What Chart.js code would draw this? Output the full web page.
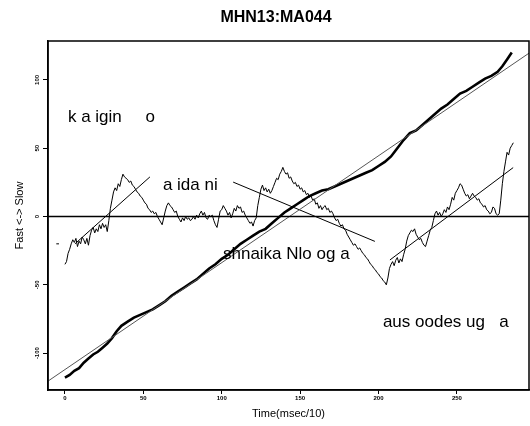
<!DOCTYPE html>
<html>
<head>
<meta charset="utf-8">
<script src="https://cdn.jsdelivr.net/npm/chart.js@4"></script>
<style>
  html, body { margin: 0; padding: 0; background: #fff; }
</style>
</head>
<body>
<canvas id="myChart" width="530" height="426"></canvas>
<script>
// axis limits and ticks
const xMin = -10.8
const xMax = 296
const yMin = -127
const yMax = 128.5
const xTicks = [0, 50, 100, 150, 200, 250]
const yTicks = [-100, -50, 0, 50, 100]

// cumulative curve (thick)
const cumTime = [0, 3, 6, 9, 12, 15, 18, 21, 24, 27, 30, 33, 36, 40, 44, 48, 52, 56, 60, 64, 68, 72, 76, 80, 84, 88, 92, 96, 100, 104, 108, 112, 116, 120, 124, 128, 132, 136, 140, 144, 148, 152, 156, 160, 164, 168, 172, 176, 180, 184, 188, 192, 196, 200, 204, 208, 212, 216, 220, 224, 228, 232, 236, 240, 244, 248, 252, 256, 260, 264, 268, 272, 276, 279, 282, 285]
const cumValue = [-118, -116, -113, -111, -107, -104, -101, -99, -96, -93, -89, -84, -80, -77, -74, -72, -70, -68, -65, -62, -58, -55, -52, -49, -46, -42, -38, -35, -31, -28, -24, -20, -17, -14, -11, -9, -5, -1, 3, 6, 9, 12, 15, 17, 19, 20, 22, 24, 26, 28, 30, 32, 34, 37, 40, 44, 50, 56, 61, 63, 67, 71, 75, 79, 82, 86, 90, 92, 95, 98, 101, 103, 106, 110, 115, 120]

// deviation series (thin, jagged), one value per time step starting at 0
const devValue = [
  -35, -33, -27, -24, -20, -17, -19, -16, -22, -18,
  -20, -15, -17, -20, -16, -21, -14, -10, -8, -12,
  -9, -11, -6, -9, -5, -8, -6, -11, -3, 6,
  12, 18, 21, 19, 24, 22, 27, 31, 29, 28,
  27, 25, 26, 23, 22, 20, 18, 17, 15, 14,
  12, 10, 9, 6, 5, 3, 4, 2, 3, 0,
  -2, -4, -6, -1, 4, 8, 10, 8, 7, 5,
  3, 4, 0, -2, -4, -1, -3, 0, -2, -1,
  -3, -2, 0, -2, 1, -1, 2, 4, 1, 3,
  -1, -2, 1, 0, 1, -3, -6, -8, -2, 4,
  5, 8, 6, 4, 1, 3, -1, 2, 6, 4,
  8, 6, 7, 3, 4, 1, -1, -3, -5, -4,
  -7, -3, -1, 8, 14, 20, 23, 19, 21, 18,
  20, 17, 19, 22, 25, 28, 27, 31, 33, 36,
  33, 31, 32, 28, 29, 26, 24, 25, 22, 23,
  20, 21, 18, 19, 16, 17, 14, 15, 12, 13,
  9, 10, 6, 8, 5, 7, 8, 5, 6, 3,
  4, 2, -1, -3, -2, -5, -7, -6, -9, -10,
  -13, -15, -17, -19, -21, -20, -22, -24, -23, -25,
  -27, -28, -30, -31, -33, -35, -36, -38, -39, -41,
  -42, -44, -45, -47, -48, -50, -45, -38, -35, -33,
  -36, -32, -30, -34, -31, -33, -28, -24, -18, -14,
  -12, -10, -11, -9, -13, -15, -17, -16, -19, -21,
  -22, -18, -14, -10, -8, -3, 2, 4, 1, 3,
  0, 2, 5, 3, 7, 5, 9, 14, 12, 17,
  19, 21, 24, 23, 20, 17, 15, 16, 13, 15,
  17, 15, 14, 12, 13, 10, 9, 7, 8, 5,
  4, 2, 3, 7, 6, 2, 1, 2, 12, 24,
  33, 40, 47, 45, 50, 52, 54
]

// fitted straight segments
const trendX = [-10.8, 296]
const trendY = [-120.5, 119.6]
const fitStartX = [6.4, 107.3, 207.3, -5.5]
const fitStartY = [-20, 25.2, -31.8, -20]
const fitEndX = [54.2, 197.7, 285.9, -3.8]
const fitEndY = [29, -18.2, 35.8, -20]

// labels written inside the plot
const noteText = ['k a igin     o', 'a ida ni', 'shnaika Nlo og a', 'aus oodes ug   a']
const noteX = [1.9, 62.5, 100.8, 202.8]
const noteY = [69.2, 19.4, -31.1, -81]

const pts = (xs, ys) => xs.map((v, i) => ({ x: v, y: ys[i] }))
const base = { pointRadius: 0, pointHoverRadius: 0, tension: 0, fill: false, borderColor: '#000' }

let datasets = [
  { ...base, data: pts([xMin, xMax], [0, 0]), borderWidth: 1.5 },
  { ...base, data: pts(trendX, trendY), borderWidth: 1, borderColor: '#555' }
]
fitStartX.forEach((v, i) => {
  datasets.push({ ...base, data: pts([v, fitEndX[i]], [fitStartY[i], fitEndY[i]]), borderWidth: 1 })
})
datasets.push({ ...base, data: devValue.map((v, i) => ({ x: i, y: v })), borderWidth: 1 })
datasets.push({ ...base, data: pts(cumTime, cumValue), borderWidth: 2.6 })

// frame, title and in-plot labels
const notesPlugin = {
  id: 'notes',
  afterDatasetsDraw(chart) {
    const { ctx, chartArea, scales: { x, y } } = chart
    ctx.save()
    ctx.strokeStyle = '#000'
    ctx.lineWidth = 1.5
    ctx.strokeRect(chartArea.left, chartArea.top, chartArea.right - chartArea.left, chartArea.bottom - chartArea.top)
    ctx.fillStyle = '#000'
    ctx.textAlign = 'center'
    ctx.textBaseline = 'middle'
    ctx.font = 'bold 16px "Liberation Sans", Arial, sans-serif'
    ctx.fillText('MHN13:MA044', 276, 18)
    ctx.font = '17px "Liberation Sans", Arial, sans-serif'
    ctx.textBaseline = 'alphabetic'
    ctx.textAlign = 'left'
    noteText.forEach((t, i) => {
      ctx.fillText(t, x.getPixelForValue(noteX[i]), y.getPixelForValue(noteY[i]))
    })
    ctx.restore()
  }
}

const tickFont = { family: '"Liberation Sans", Arial, sans-serif', size: 6, weight: 'bold' }

let ctx = document.getElementById('myChart').getContext('2d')
let chart = new Chart(ctx, {
  type: 'line',
  data: { datasets },
  plugins: [notesPlugin],
  options: {
    responsive: false,
    animation: false,
    events: [],
    layout: { padding: { left: 0, right: 1, top: 41, bottom: 0 } },
    plugins: {
      legend: { display: false },
      tooltip: { enabled: false },
      title: { display: false }
    },
    scales: {
      x: {
        type: 'linear',
        min: xMin,
        max: xMax,
        afterBuildTicks: s => { s.ticks = xTicks.map(v => ({ value: v })) },
        afterFit: s => { s.height = 36 },
        ticks: { font: tickFont, color: '#000', padding: 1, maxRotation: 0, autoSkip: false },
        grid: { drawOnChartArea: false, tickLength: 4, color: '#000' },
        border: { color: '#000', width: 1.5 },
        title: {
          display: true,
          text: 'Time(msec/10)',
          color: '#000',
          font: { family: '"Liberation Sans", Arial, sans-serif', size: 11 },
          padding: { top: 0, bottom: 5 }
        }
      },
      y: {
        type: 'linear',
        min: yMin,
        max: yMax,
        afterBuildTicks: s => { s.ticks = yTicks.map(v => ({ value: v })) },
        afterFit: s => { s.width = 48 },
        ticks: { font: tickFont, color: '#000', padding: 0, minRotation: 90, maxRotation: 90, crossAlign: 'center', autoSkip: false },
        grid: { drawOnChartArea: false, tickLength: 5, color: '#000' },
        border: { color: '#000', width: 1.5 },
        title: {
          display: true,
          text: 'Fast <-> Slow',
          color: '#000',
          font: { family: '"Liberation Sans", Arial, sans-serif', size: 11 },
          padding: { top: 13, bottom: 0 }
        }
      }
    }
  }
})
</script>
</body>
</html>
